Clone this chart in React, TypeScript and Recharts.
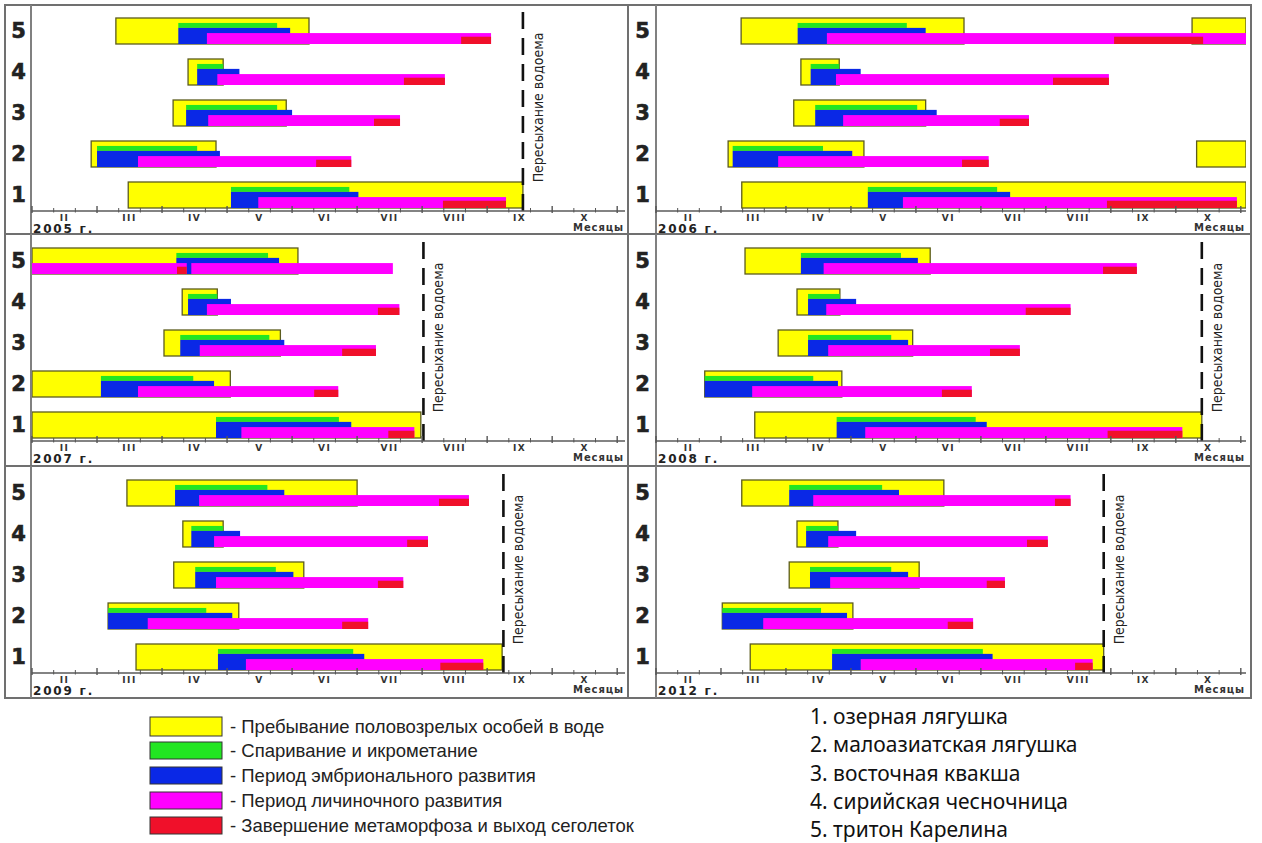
import React from 'react';
import { ComposedChart, Bar, XAxis, YAxis, ReferenceLine } from 'recharts';

// ---------- categories & tick labels ----------
const SPECIES = ['5', '4', '3', '2', '1'];
const MONTHS = ['II', 'III', 'IV', 'V', 'VI', 'VII', 'VIII', 'IX', 'X'];
const YEARS = ['2005', '2006', '2007', '2008', '2009', '2012'];

// Periods in months: 2 = 1 February, 3 = 1 March ... ; rows ordered species 5,4,3,2,1
type Seg = [number, number] | null;

const ADULTS_2005: Seg[] = [[3.29, 6.26], [4.40, 4.94], [4.17, 5.91], [2.91, 4.83], [3.48, 9.55]];
const SPAWN_2005: Seg[] = [[4.25, 5.77], [4.54, 4.94], [4.37, 5.77], [3.0, 4.54], [5.06, 6.88]];
const EMBRYO_2005: Seg[] = [[4.25, 5.97], [4.54, 5.19], [4.37, 6.0], [3.0, 4.89], [5.06, 7.02]];
const LARVA_2005: Seg[] = [[4.69, 9.06], [4.85, 8.35], [4.71, 7.66], [3.63, 6.91], [5.48, 9.29]];
const META_2005: Seg[] = [[8.6, 9.06], [7.72, 8.35], [7.26, 7.66], [6.37, 6.91], [8.32, 9.29]];

const ADULTS_2006: Seg[] = [[3.31, 6.74], [4.23, 4.82], [4.12, 6.15], [3.11, 5.2], [3.32, 11.08]];
const ADULTS_LATE_2006: Seg[] = [[10.25, 11.08], null, null, [10.32, 11.08], null];
const SPAWN_2006: Seg[] = [[4.18, 5.86], [4.38, 4.82], [4.45, 6.02], [3.18, 4.57], [5.26, 7.25]];
const EMBRYO_2006: Seg[] = [[4.18, 6.15], [4.38, 5.15], [4.45, 6.32], [3.18, 5.02], [5.26, 7.45]];
const LARVA_2006: Seg[] = [[4.63, 11.08], [4.77, 8.97], [4.88, 7.74], [3.88, 7.12], [5.8, 10.94]];
const META_2006: Seg[] = [[9.05, 10.42], [8.11, 8.97], [7.29, 7.74], [6.71, 7.12], [8.94, 10.94]];

const ADULTS_2007: Seg[] = [[2.0, 6.09], [4.31, 4.85], [4.03, 5.82], [2.0, 5.05], [2.0, 7.98]];
const SPAWN_2007: Seg[] = [[4.22, 5.63], [4.4, 4.85], [4.28, 5.65], [3.06, 4.48], [4.83, 6.72]];
const EMBRYO_2007: Seg[] = [[4.22, 5.8], [4.4, 5.06], [4.28, 5.88], [3.06, 4.8], [4.83, 6.91]];
const LARVA_2007: Seg[] = [[4.45, 7.55], [4.69, 7.65], [4.58, 7.29], [3.63, 6.71], [5.22, 7.88]];
const META_2007: Seg[] = [null, [7.32, 7.65], [6.77, 7.29], [6.34, 6.71], [7.48, 7.88]];
const LARVA_WINTER_2007: Seg[] = [[2.0, 4.38], null, null, null, null];
const META_WINTER_2007: Seg[] = [[4.23, 4.38], null, null, null, null];

const ADULTS_2008: Seg[] = [[3.37, 6.22], [4.17, 4.83], [3.88, 5.95], [2.75, 4.86], [3.52, 10.4]];
const SPAWN_2008: Seg[] = [[4.23, 5.77], [4.34, 4.83], [4.34, 5.62], [2.75, 4.42], [4.78, 6.92]];
const EMBRYO_2008: Seg[] = [[4.23, 6.03], [4.34, 5.08], [4.34, 5.88], [2.75, 4.8], [4.78, 7.09]];
const LARVA_2008: Seg[] = [[4.58, 9.4], [4.62, 8.38], [4.65, 7.6], [3.48, 6.86], [5.22, 10.1]];
const META_2008: Seg[] = [[8.88, 9.4], [7.69, 8.38], [7.14, 7.6], [6.4, 6.86], [8.95, 10.1]];

const ADULTS_2009: Seg[] = [[3.46, 7.0], [4.32, 4.94], [4.18, 6.18], [3.17, 5.18], [3.6, 9.23]];
const SPAWN_2009: Seg[] = [[4.2, 5.62], [4.45, 4.94], [4.51, 5.75], [3.17, 4.68], [4.86, 6.94]];
const EMBRYO_2009: Seg[] = [[4.2, 5.88], [4.45, 5.2], [4.51, 6.02], [3.17, 5.08], [4.86, 7.11]];
const LARVA_2009: Seg[] = [[4.57, 8.72], [4.8, 8.09], [4.83, 7.71], [3.78, 7.17], [5.29, 8.94]];
const META_2009: Seg[] = [[8.26, 8.72], [7.77, 8.09], [7.32, 7.71], [6.77, 7.17], [8.28, 8.94]];

const ADULTS_2012: Seg[] = [[3.32, 6.43], [4.17, 4.8], [4.05, 6.05], [3.02, 5.03], [3.45, 8.89]];
const SPAWN_2012: Seg[] = [[4.05, 5.48], [4.31, 4.8], [4.37, 5.62], [3.02, 4.54], [4.71, 7.03]];
const EMBRYO_2012: Seg[] = [[4.05, 5.74], [4.31, 5.08], [4.37, 5.88], [3.02, 4.94], [4.71, 7.18]];
const LARVA_2012: Seg[] = [[4.42, 8.38], [4.65, 8.03], [4.68, 7.37], [3.65, 6.88], [5.15, 8.72]];
const META_2012: Seg[] = [[8.14, 8.38], [7.71, 8.03], [7.09, 7.37], [6.49, 6.88], [8.45, 8.72]];

// drying of the pond (month value), per year
const DRYING = [9.55, null, 8.02, 10.4, 9.25, 8.89];

const LEGEND_LABELS = [
  '- Пребывание половозрелых особей в воде',
  '- Спаривание и икрометание',
  '- Период эмбрионального развития',
  '- Период личиночного развития',
  '- Завершение метаморфоза и выход сеголеток',
];
const SPECIES_NAMES = [
  '1. озерная лягушка',
  '2. малоазиатская лягушка',
  '3. восточная квакша',
  '4. сирийская чесночница',
  '5. тритон Карелина',
];

// ---------- styles ----------
const YELLOW = '#ffff00';
const GREEN = '#22e622';
const BLUE = '#0a28e6';
const MAGENTA = '#ff00ff';
const RED = '#f0102a';
const LEGEND_COLORS = [YELLOW, GREEN, BLUE, MAGENTA, RED];

const BOLD_FONT = "'DejaVu Sans', Verdana, sans-serif";
const NARROW_FONT = "'Liberation Sans Narrow', 'DejaVu Sans Condensed', 'Arial Narrow', sans-serif";

type Layer = { key: string; fill: string; top: number; bot: number; stroke?: string; sw?: number };
const LAYERS: Layer[] = [
  { key: 'adults', fill: YELLOW, top: 0, bot: 1, stroke: '#5c5c1e', sw: 1.3 },
  { key: 'adultsLate', fill: YELLOW, top: 0, bot: 1, stroke: '#5c5c1e', sw: 1.3 },
  { key: 'spawn', fill: GREEN, top: 0.19, bot: 0.38 },
  { key: 'embryo', fill: BLUE, top: 0.38, bot: 1 },
  { key: 'larvaWinter', fill: MAGENTA, top: 0.58, bot: 1 },
  { key: 'larva', fill: MAGENTA, top: 0.58, bot: 1 },
  { key: 'metaWinter', fill: RED, top: 0.72, bot: 1 },
  { key: 'meta', fill: RED, top: 0.72, bot: 1 },
];

type PanelSrc = Record<string, Seg[] | undefined>;
const SOURCES: PanelSrc[] = [
  { adults: ADULTS_2005, spawn: SPAWN_2005, embryo: EMBRYO_2005, larva: LARVA_2005, meta: META_2005 },
  { adults: ADULTS_2006, adultsLate: ADULTS_LATE_2006, spawn: SPAWN_2006, embryo: EMBRYO_2006, larva: LARVA_2006, meta: META_2006 },
  { adults: ADULTS_2007, spawn: SPAWN_2007, embryo: EMBRYO_2007, larva: LARVA_2007, meta: META_2007, larvaWinter: LARVA_WINTER_2007, metaWinter: META_WINTER_2007 },
  { adults: ADULTS_2008, spawn: SPAWN_2008, embryo: EMBRYO_2008, larva: LARVA_2008, meta: META_2008 },
  { adults: ADULTS_2009, spawn: SPAWN_2009, embryo: EMBRYO_2009, larva: LARVA_2009, meta: META_2009 },
  { adults: ADULTS_2012, spawn: SPAWN_2012, embryo: EMBRYO_2012, larva: LARVA_2012, meta: META_2012 },
];

function buildRows(src: PanelSrc) {
  return SPECIES.map((sp, i) => {
    const row: Record<string, any> = { sp };
    LAYERS.forEach((l) => {
      const arr = src[l.key];
      row[l.key] = arr ? arr[i] : null;
    });
    return row;
  });
}

const TICKS: number[] = [];
MONTHS.forEach((_, i) => {
  const m = 2 + i;
  TICKS.push(m, m + 1 / 3, m + 0.5, m + 2 / 3);
});
TICKS.push(2 + MONTHS.length);

// ---------- geometry ----------
const COLS = [
  { left: 5, width: 622, yw: 27, xMax: 11.12, frameX: 5, frameW: 623, axisX: 31 },
  { left: 630, width: 618, yw: 26, xMax: 11.08, frameX: 628, frameW: 623, axisX: 656 },
];
const ROWS = [
  { top: 5, frameY: 5, frameH: 229 },
  { top: 235, frameY: 234, frameH: 232 },
  { top: 467, frameY: 466, frameH: 232 },
];
const CHART_H = 228;
const PLOT_TOP = 5;
const X_AXIS_H = 22;
const PLOT_H = CHART_H - PLOT_TOP - X_AXIS_H;

function makeShape(layer: Layer) {
  return (props: any) => {
    const { x, y, width, height, payload } = props;
    const val = payload ? payload[layer.key] : null;
    if (!val || !(width > 0) || !isFinite(x) || !isFinite(y)) return <g />;
    return (
      <rect
        x={x}
        y={y + height * layer.top}
        width={width}
        height={height * (layer.bot - layer.top)}
        fill={layer.fill}
        stroke={layer.stroke || 'none'}
        strokeWidth={layer.sw || 0}
      />
    );
  };
}

function MonthTick(props: any) {
  const { x, y, payload } = props;
  const v = payload.value as number;
  const frac = v - Math.floor(v + 1e-6);
  if (Math.abs(frac - 0.5) < 0.01) {
    return (
      <text x={x} y={y + 10} textAnchor="middle" fontFamily={BOLD_FONT} fontWeight={700} fontSize={9} letterSpacing={1.5} fill="#333">
        {MONTHS[Math.floor(v) - 2]}
      </text>
    );
  }
  const major = frac < 0.01 || frac > 0.99;
  return <line x1={x} x2={x} y1={y - (major ? 5 : 3)} y2={y + (major ? 2 : 1.5)} stroke="#555" strokeWidth={major ? 1.4 : 1} />;
}

function SpeciesTick(props: any) {
  const { x, y, payload } = props;
  return (
    <text x={x - 13.5} y={y + 7.5} textAnchor="middle" fontFamily={BOLD_FONT} fontWeight={700} fontSize={21} fill="#222" stroke="#222" strokeWidth={0.6}>
      {payload.value}
    </text>
  );
}

const renderDry = (p: any) => {
  const vb = p && p.viewBox ? p.viewBox : { x: 0, y: 0, width: 0, height: 0 };
  const x = vb.x + 15;
  const y = vb.y + vb.height / 2 - 3;
  return (
    <text x={x} y={y} transform={`rotate(-90 ${x} ${y})`} textAnchor="middle" dominantBaseline="central" fontFamily={NARROW_FONT} fontSize={14} fill="#222">
      Пересыхание водоема
    </text>
  );
};

function Panel({ idx }: { idx: number }) {
  const col = COLS[idx % 2];
  const row = ROWS[Math.floor(idx / 2)];
  const data = buildRows(SOURCES[idx]);
  const dry = DRYING[idx];
  return (
    <div style={{ position: 'absolute', left: col.left, top: row.top }}>
      <ComposedChart
        layout="vertical"
        width={col.width}
        height={CHART_H}
        data={data}
        margin={{ top: PLOT_TOP, right: 2, left: 0, bottom: 0 }}
        barSize={26}
        barGap={-26}
      >
        <XAxis
          type="number"
          domain={[2, col.xMax]}
          allowDataOverflow
          ticks={TICKS}
          interval={0}
          tickSize={0}
          tickMargin={0}
          tickLine={false}
          axisLine={{ stroke: '#5a5a5a', strokeWidth: 1.5 }}
          tick={<MonthTick />}
          height={X_AXIS_H}
        />
        <YAxis
          type="category"
          dataKey="sp"
          width={col.yw}
          axisLine={false}
          tickLine={false}
          tickSize={0}
          tickMargin={0}
          interval={0}
          padding={{ top: 0, bottom: -4 }}
          tick={<SpeciesTick />}
        />
        {LAYERS.map((l) => (
          <Bar key={l.key} dataKey={l.key} isAnimationActive={false} shape={makeShape(l)} />
        ))}
        {dry != null && (
          <ReferenceLine x={dry} stroke="#111" strokeWidth={2.6} strokeDasharray="17 9" label={renderDry} />
        )}
      </ComposedChart>
    </div>
  );
}

export default function App() {
  const axisY = ROWS.map((r) => r.top + PLOT_TOP + PLOT_H);
  return (
    <div style={{ position: 'absolute', left: 0, top: 0, width: 1262, height: 843, background: '#fff', overflow: 'hidden' }}>
      <svg width={1262} height={843} style={{ position: 'absolute', left: 0, top: 0 }}>
        {ROWS.map((r, ri) =>
          COLS.map((c, ci) => (
            <g key={`${ri}-${ci}`}>
              <rect x={c.frameX} y={r.frameY} width={c.frameW} height={r.frameH} fill="none" stroke="#707070" strokeWidth={2} />
              <line x1={c.axisX} x2={c.axisX} y1={r.frameY} y2={r.frameY + r.frameH} stroke="#808080" strokeWidth={2} />
              <text x={c.axisX + 2} y={axisY[ri] + 22} fontFamily={BOLD_FONT} fontWeight={700} fontSize={12} letterSpacing={1.8} fill="#222">
                {YEARS[ri * 2 + ci]} г.
              </text>
              <text x={c.left + c.width - 3} y={axisY[ri] + 20} textAnchor="end" fontFamily={BOLD_FONT} fontWeight={700} fontSize={10} letterSpacing={0.9} fill="#333">
                Месяцы
              </text>
            </g>
          ))
        )}
        {LEGEND_LABELS.map((t, i) => {
          const yTop = [717, 742, 767, 792, 817][i];
          const h = i === 0 ? 19 : 17;
          return (
            <g key={t}>
              <rect x={150} y={yTop} width={72} height={h} fill={LEGEND_COLORS[i]} stroke="#333" strokeWidth={1} />
              <text x={230} y={yTop + h / 2 + 6} fontFamily="'Liberation Sans', Arial, sans-serif" fontSize={18.5} fill="#222">
                {t}
              </text>
            </g>
          );
        })}
        {SPECIES_NAMES.map((t, i) => (
          <text key={t} x={810} y={724 + i * 28.3} fontFamily="'Noto Sans', 'Open Sans', sans-serif" fontSize={21} fill="#111">
            {t}
          </text>
        ))}
      </svg>
      {YEARS.map((y, i) => (
        <Panel key={y} idx={i} />
      ))}
    </div>
  );
}
